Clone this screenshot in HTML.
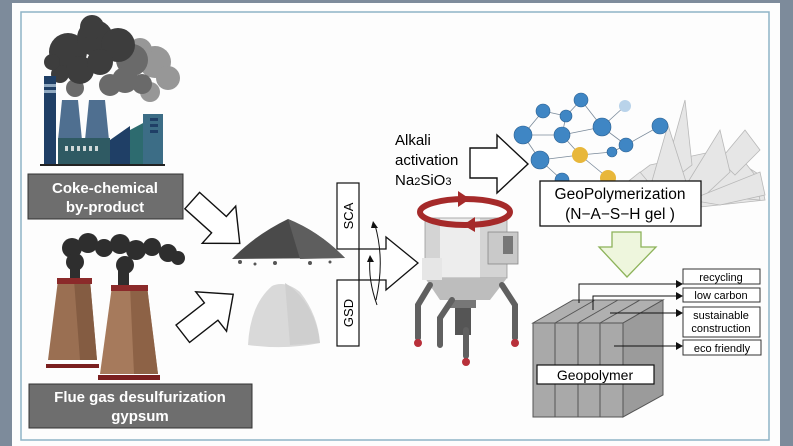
<!DOCTYPE html>
<html><head><meta charset="utf-8"><style>
html,body{margin:0;padding:0;background:#7d8b9b;}
svg{display:block;}
text{font-family:"Liberation Sans",sans-serif;}
</style></head><body>
<svg width="793" height="446" viewBox="0 0 793 446" xmlns="http://www.w3.org/2000/svg">
<rect x="0" y="0" width="793" height="446" fill="#7d8b9b"/>
<rect x="12" y="3" width="768" height="443" fill="#fdfdfd"/>
<rect x="21" y="12" width="748" height="428" fill="none" stroke="#8fb3c6" stroke-width="1.5"/>

<!-- Factory 1 smoke -->
<g fill="#979797"><circle cx="155" cy="62" r="16"/><circle cx="168" cy="78" r="12"/><circle cx="150" cy="92" r="10"/><circle cx="140" cy="50" r="12"/></g>
<g fill="#6a6a6a"><circle cx="132" cy="60" r="16"/><circle cx="125" cy="80" r="13"/><circle cx="110" cy="85" r="11"/><circle cx="142" cy="84" r="10"/><circle cx="75" cy="88" r="9"/></g>
<g fill="#3d3d3d">
<circle cx="68" cy="52" r="19"/><circle cx="95" cy="38" r="18"/><circle cx="118" cy="45" r="17"/><circle cx="80" cy="70" r="14"/><circle cx="100" cy="62" r="13"/><circle cx="60" cy="74" r="9"/><circle cx="92" cy="27" r="12"/><circle cx="52" cy="62" r="8"/>
</g>
<!-- Factory 1 body -->
<rect x="44" y="76" width="12" height="88" fill="#1f3f66"/>
<rect x="44" y="84" width="12" height="3" fill="#8fa8c0"/><rect x="44" y="90" width="12" height="3" fill="#8fa8c0"/>
<polygon points="62,100 78,100 82,140 58,140" fill="#4f6f90"/>
<polygon points="89,100 105,100 109,140 85,140" fill="#4f6f90"/>
<rect x="58" y="138" width="52" height="26" fill="#2f5a63"/>
<g fill="#cfd8d8"><rect x="65" y="146" width="3" height="5"/><rect x="71" y="146" width="3" height="5"/><rect x="77" y="146" width="3" height="5"/><rect x="83" y="146" width="3" height="5"/><rect x="89" y="146" width="3" height="5"/><rect x="95" y="146" width="3" height="5"/></g>
<polygon points="110,164 110,140 130,126 130,164" fill="#1f3f66"/>
<polygon points="130,164 130,130 145,122 145,164" fill="#2d6b6f"/>
<rect x="143" y="114" width="20" height="50" fill="#3c6d86"/>
<rect x="150" y="118" width="8" height="3" fill="#1f3f66"/><rect x="150" y="124" width="8" height="3" fill="#1f3f66"/><rect x="150" y="130" width="8" height="3" fill="#1f3f66"/>
<rect x="40" y="164" width="125" height="2" fill="#222"/>

<!-- Coke label -->
<rect x="28" y="174" width="155" height="45" fill="#6e6e6e" stroke="#333" stroke-width="1"/>
<text x="105" y="193" font-size="15" font-weight="bold" fill="#fff" text-anchor="middle">Coke-chemical</text>
<text x="105" y="212" font-size="15" font-weight="bold" fill="#fff" text-anchor="middle">by-product</text>

<!-- Factory 2 smoke -->
<g fill="#2e2e2e">
<circle cx="72" cy="248" r="10"/><circle cx="88" cy="243" r="10"/><circle cx="104" cy="248" r="9"/><circle cx="120" cy="244" r="10"/><circle cx="136" cy="250" r="10"/><circle cx="152" cy="247" r="9"/><circle cx="168" cy="253" r="9"/><circle cx="178" cy="258" r="7"/>
<circle cx="75" cy="262" r="9"/><circle cx="125" cy="265" r="9"/><rect x="70" y="262" width="10" height="20"/><rect x="118" y="262" width="11" height="24"/>
</g>
<!-- Cooling towers -->
<polygon points="58,280 90,280 97,360 48,360" fill="#9a6f52"/>
<polygon points="74,280 90,280 97,360 80,360" fill="#845c42"/>
<rect x="57" y="278" width="35" height="6" fill="#8b2a2a"/>
<rect x="46" y="364" width="53" height="4" fill="#7a1f1f"/>
<polygon points="112,286 147,286 158,374 100,374" fill="#a67a5c"/>
<polygon points="130,286 147,286 158,374 134,374" fill="#8d6246"/>
<rect x="111" y="285" width="37" height="6" fill="#8b2a2a"/>
<rect x="98" y="375" width="62" height="5" fill="#7a1f1f"/>

<!-- Flue label -->
<rect x="29" y="384" width="223" height="44" fill="#6e6e6e" stroke="#333" stroke-width="1"/>
<text x="140" y="402" font-size="15" font-weight="bold" fill="#fff" text-anchor="middle">Flue gas  desulfurization</text>
<text x="140" y="421" font-size="15" font-weight="bold" fill="#fff" text-anchor="middle">gypsum</text>

<!-- hollow arrows -->
<g fill="#fff" stroke="#111" stroke-width="1.4">
<polygon transform="translate(216,222) rotate(42)" points="-32,-11 4,-11 4,-25 32,0 4,25 4,11 -32,11"/>
<polygon transform="translate(208,314) rotate(-38)" points="-32,-11 4,-11 4,-25 32,0 4,25 4,11 -32,11"/>
</g>

<!-- piles -->
<path d="M232,259 Q255,235 288,219 Q320,232 345,258 Z" fill="#4a4a4a"/>
<path d="M288,219 Q320,232 345,258 L300,259 Z" fill="#5e5e5e"/>
<g fill="#555"><circle cx="240" cy="262" r="2"/><circle cx="255" cy="264" r="1.5"/><circle cx="275" cy="263" r="2"/><circle cx="310" cy="263" r="2"/><circle cx="330" cy="262" r="1.5"/></g>
<path d="M248,345 Q250,305 272,286 Q285,280 300,292 Q318,315 320,343 Q285,350 248,345 Z" fill="#d9d9d9"/>
<path d="M285,283 Q300,292 310,310 Q318,325 320,343 L290,345 Z" fill="#cfcfcf"/>

<!-- SCA / GSD -->
<rect x="337" y="183" width="22" height="66" fill="#fff" stroke="#111" stroke-width="1.2"/>
<text transform="translate(353,216) rotate(-90)" font-size="13" text-anchor="middle">SCA</text>
<rect x="337" y="280" width="22" height="66" fill="#fff" stroke="#111" stroke-width="1.2"/>
<text transform="translate(353,313) rotate(-90)" font-size="13" text-anchor="middle">GSD</text>
<polygon points="359,249 386,249 386,237 418,263 386,290 386,280 359,280" fill="#fff" stroke="#111" stroke-width="1.3"/>
<path d="M375,225 Q385,260 376,300" fill="none" stroke="#111" stroke-width="1"/>
<path d="M370,258 Q368,280 377,305" fill="none" stroke="#111" stroke-width="1"/>
<polygon points="373,221 378,228 371,228" fill="#111"/>
<polygon points="370,255 374,262 367,262" fill="#111"/>

<!-- Alkali text -->
<text x="395" y="145" font-size="15">Alkali</text>
<text x="395" y="165" font-size="15">activation</text>
<text x="395" y="185" font-size="15">Na<tspan font-size="11">2</tspan>SiO<tspan font-size="11">3</tspan></text>
<polygon points="470,148 497,148 497,135 528,164 497,193 497,178 470,178" fill="#fff" stroke="#111" stroke-width="1.4"/>

<!-- Mixer -->
<rect x="425" y="218" width="82" height="60" fill="#d4d4d4"/>
<rect x="440" y="218" width="40" height="60" fill="#ededed"/>
<rect x="425" y="218" width="82" height="60" fill="none" stroke="#999" stroke-width="0.8"/>
<rect x="488" y="232" width="30" height="32" fill="#c9c9c9" stroke="#888" stroke-width="0.8"/>
<rect x="503" y="236" width="10" height="18" fill="#777"/>
<polygon points="425,278 507,278 490,300 440,300" fill="#bdbdbd"/>
<rect x="422" y="258" width="20" height="22" fill="#e6e6e6"/>
<rect x="455" y="300" width="16" height="35" fill="#555"/>
<rect x="450" y="300" width="26" height="8" fill="#777"/>
<g stroke="#606060" stroke-width="6" fill="none" stroke-linecap="round">
<path d="M430,285 L418,305 L418,338"/><path d="M502,285 L515,305 L515,338"/><path d="M466,330 L466,356"/><path d="M452,300 L440,318 L440,345"/>
</g>
<g fill="#b8303a"><circle cx="418" cy="343" r="4"/><circle cx="515" cy="343" r="4"/><circle cx="466" cy="362" r="4"/></g>
<ellipse cx="465" cy="212" rx="45" ry="13" fill="none" stroke="#a52a2a" stroke-width="6"/>
<polygon points="458,191 470,199 458,207" fill="#a52a2a"/>
<polygon points="475,217 463,225 475,232" fill="#a52a2a"/>

<!-- Crystals -->
<g fill="#e6e6e6" stroke="#b8b8b8" stroke-width="0.8">
<polygon points="610,195 650,165 720,150 760,175 765,200 700,207 640,205"/>
<polygon points="700,195 735,150 755,175 760,200"/>
<polygon points="720,160 745,130 760,150 735,175"/>
<polygon points="660,190 685,100 692,165"/>
<polygon points="680,195 720,130 730,172 700,200"/>
<polygon points="690,200 760,172 765,195 720,205"/>
<polygon points="650,188 668,125 688,188"/>
<polygon points="615,192 640,172 660,196"/>
</g>
<!-- Molecule network -->
<g stroke="#7a8a9a" stroke-width="0.8">
<line x1="523" y1="135" x2="543" y2="111"/><line x1="543" y1="111" x2="566" y2="116"/><line x1="566" y1="116" x2="581" y2="100"/><line x1="523" y1="135" x2="562" y2="135"/><line x1="562" y1="135" x2="602" y2="127"/><line x1="566" y1="116" x2="562" y2="135"/><line x1="602" y1="127" x2="625" y2="106"/><line x1="602" y1="127" x2="626" y2="145"/><line x1="626" y1="145" x2="660" y2="126"/><line x1="540" y1="160" x2="580" y2="155"/><line x1="580" y1="155" x2="612" y2="152"/><line x1="562" y1="135" x2="580" y2="155"/><line x1="523" y1="135" x2="540" y2="160"/><line x1="580" y1="155" x2="608" y2="178"/><line x1="540" y1="160" x2="562" y2="180"/><line x1="612" y1="152" x2="626" y2="145"/><line x1="581" y1="100" x2="602" y2="127"/>
</g>
<g fill="#3f86c4" stroke="#2a5f90" stroke-width="0.6">
<circle cx="523" cy="135" r="9"/><circle cx="543" cy="111" r="7"/><circle cx="581" cy="100" r="7"/><circle cx="566" cy="116" r="6"/><circle cx="562" cy="135" r="8"/><circle cx="602" cy="127" r="9"/><circle cx="626" cy="145" r="7"/><circle cx="660" cy="126" r="8"/><circle cx="540" cy="160" r="9"/><circle cx="612" cy="152" r="5"/><circle cx="562" cy="180" r="7"/>
</g>
<circle cx="625" cy="106" r="6" fill="#b9d3ea"/>
<circle cx="580" cy="155" r="8" fill="#e8b73a"/><circle cx="608" cy="178" r="8" fill="#e8b73a"/>

<!-- GeoPolymerization box -->
<rect x="540" y="181" width="161" height="45" fill="#fff" stroke="#111" stroke-width="1.3"/>
<text x="620" y="199" font-size="15.5" text-anchor="middle">GeoPolymerization</text>
<text x="620" y="219" font-size="15.5" text-anchor="middle">(N−A−S−H gel  )</text>
<polygon points="612,232 641,232 641,247 656,247 627,277 599,247 612,247" fill="#eef6dd" stroke="#8db35a" stroke-width="1.3"/>

<!-- Cube -->
<polygon points="533,323 623,323 663,300 573,300" fill="#b0b0b0" stroke="#555" stroke-width="1"/>
<rect x="533" y="323" width="90" height="94" fill="#a9a9a9" stroke="#555" stroke-width="1"/>
<polygon points="623,323 663,300 663,395 623,417" fill="#9b9b9b" stroke="#555" stroke-width="1"/>
<g stroke="#555" stroke-width="1"><line x1="555" y1="323" x2="555" y2="417"/><line x1="578" y1="323" x2="578" y2="417"/><line x1="600" y1="323" x2="600" y2="417"/><line x1="555" y1="323" x2="595" y2="300"/><line x1="578" y1="323" x2="618" y2="300"/><line x1="600" y1="323" x2="640" y2="300"/></g>
<rect x="537" y="365" width="117" height="19" fill="#fff" stroke="#111" stroke-width="1.2"/>
<text x="595" y="380" font-size="14" text-anchor="middle">Geopolymer</text>
<!-- connectors -->
<g stroke="#111" stroke-width="1" fill="none">
<path d="M579,303 L579,284 L676,284"/><path d="M593,310 L593,296 L676,296"/><path d="M610,313 L676,313"/><path d="M614,346 L676,346"/>
</g>
<g fill="#111"><polygon points="676,280 683,284 676,288"/><polygon points="676,292 683,296 676,300"/><polygon points="676,309 683,313 676,317"/><polygon points="676,342 683,346 676,350"/></g>
<g fill="#fff" stroke="#333" stroke-width="1">
<rect x="683" y="269" width="77" height="15"/><rect x="683" y="288" width="77" height="14"/><rect x="683" y="307" width="77" height="30"/><rect x="683" y="340" width="78" height="15"/>
</g>
<g font-size="11" text-anchor="middle">
<text x="721" y="281">recycling</text><text x="721" y="299">low carbon</text><text x="721" y="319">sustainable</text><text x="721" y="332">construction</text><text x="722" y="352">eco friendly</text>
</g>
</svg>
</body></html>
